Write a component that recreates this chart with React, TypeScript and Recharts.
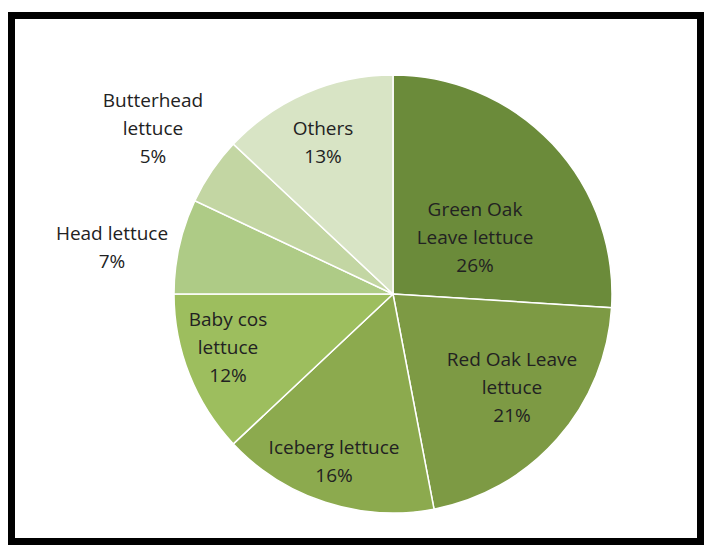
import React from "react";
import { PieChart, Pie, Cell } from "recharts";

const categories = [
  "Green Oak Leave lettuce",
  "Red Oak Leave lettuce",
  "Iceberg lettuce",
  "Baby cos lettuce",
  "Head lettuce",
  "Butterhead lettuce",
  "Others",
];
const shares = [26, 21, 16, 12, 7, 5, 13];
const labelLines = [
  ["Green Oak", "Leave lettuce"],
  ["Red Oak Leave", "lettuce"],
  ["Iceberg lettuce"],
  ["Baby cos", "lettuce"],
  ["Head lettuce"],
  ["Butterhead", "lettuce"],
  ["Others"],
];

const colors = [
  "#6B8B3A", // green oak
  "#7D9A44",
  "#8CAA4E",
  "#9DBE5E",
  "#AECB86",
  "#C3D6A3",
  "#D8E4C5",
];

// label centre offsets from the pie centre (Excel "best fit" placement)
const labelOffsets = [
  { dx: 82, dy: -57 },
  { dx: 119, dy: 93 },
  { dx: -59, dy: 167 },
  { dx: -165, dy: 53 },
  { dx: -281, dy: -47 },
  { dx: -240, dy: -166 },
  { dx: -70, dy: -152 },
];

const data = categories.map((name, i) => ({ name, value: shares[i] }));

const LINE_H = 28;

function renderLabel(props: any) {
  const { cx, cy, index, value } = props;
  const off = labelOffsets[index];
  const lines = [...labelLines[index], `${value}%`];
  const x = cx + off.dx;
  const top = cy + off.dy - ((lines.length - 1) * LINE_H) / 2;
  return (
    <text
      key={`lbl-${index}`}
      x={x}
      y={top}
      textAnchor="middle"
      dominantBaseline="central"
      fill="#222"
      fontFamily="'Open Sans', Lato, sans-serif"
      fontSize={19}
    >
      {lines.map((ln, j) => (
        <tspan key={j} x={x} y={top + j * LINE_H}>
          {ln}
        </tspan>
      ))}
    </text>
  );
}

export default function App() {
  return (
    <div
      style={{
        position: "fixed",
        left: 8,
        top: 12,
        width: 682,
        height: 519,
        border: "7px solid #000",
        background: "#fff",
      }}
    >
      <PieChart
        width={682}
        height={519}
        margin={{ top: 0, right: 0, bottom: 0, left: 0 }}
      >
        <Pie
          data={data}
          dataKey="value"
          nameKey="name"
          cx={378}
          cy={275}
          outerRadius={219}
          startAngle={90}
          endAngle={-270}
          stroke="#fff"
          strokeWidth={1.5}
          label={renderLabel}
          labelLine={false}
          isAnimationActive={false}
        >
          {data.map((entry, index) => (
            <Cell key={`cell-${index}`} fill={colors[index]} />
          ))}
        </Pie>
      </PieChart>
    </div>
  );
}
